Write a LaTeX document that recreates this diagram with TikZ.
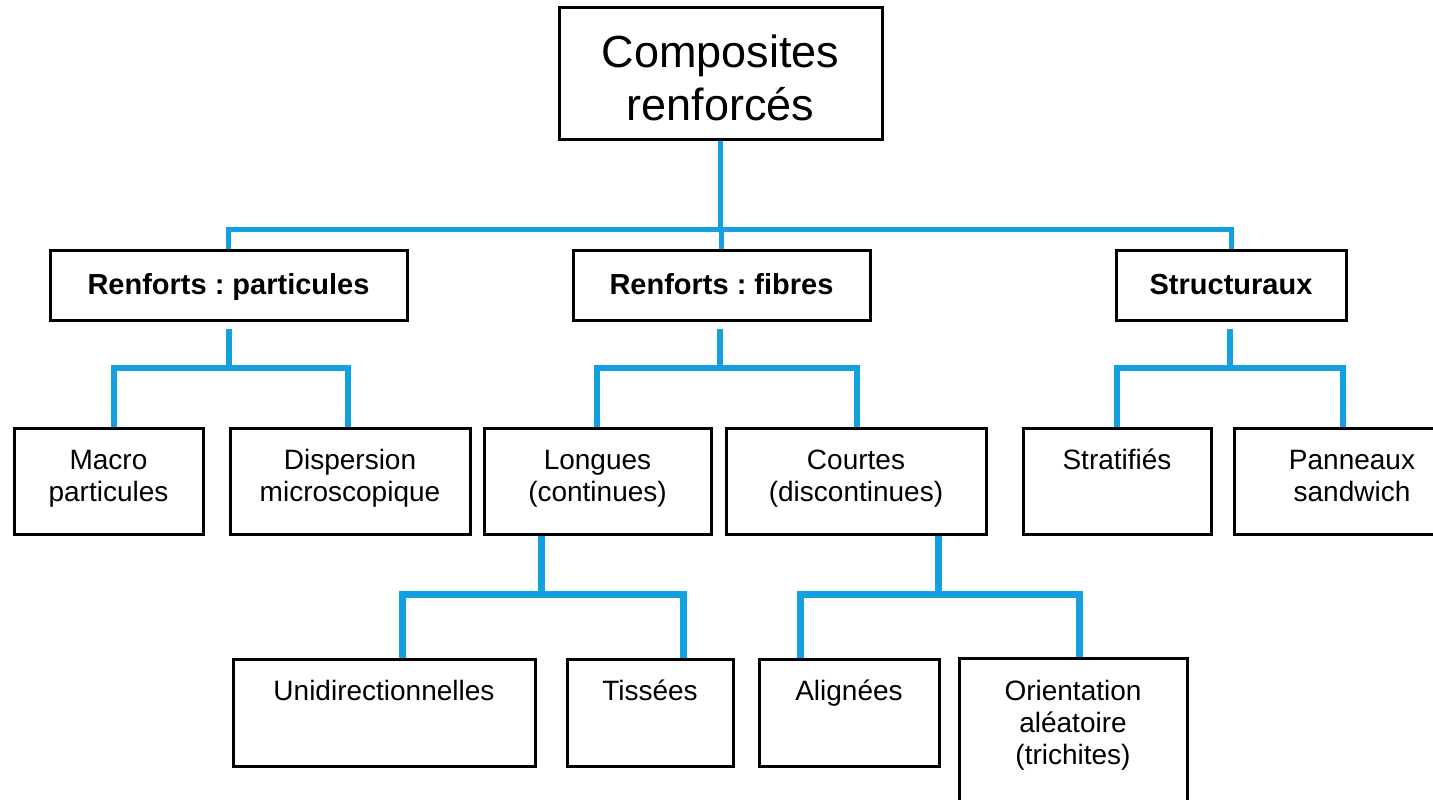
\documentclass[tikz,border=0pt]{standalone}
\usepackage{fontspec}
\setmainfont{Liberation Sans}
\usetikzlibrary{calc,backgrounds}
\frenchspacing
\definecolor{linkblue}{RGB}{18,160,225}
\tikzset{
  boxst/.style={draw=black, line width=3pt, fill=white, inner sep=0pt, outer sep=0pt},
  c1/.style={draw=linkblue, line width=5pt},
  c2/.style={draw=linkblue, line width=6pt},
  c3/.style={draw=linkblue, line width=7pt}
}
% name, x, y, width, height, first baseline, font, text
\newcommand\mkbox[8]{%
  \node[boxst, anchor=north west] (#1) at (#2,#3)
  {\parbox[c][#5pt][t]{#4pt}{\centering #7\rule{0pt}{#6pt}#8\par}};}
\newcommand\bigf{\fontsize{45}{52}\selectfont}
\newcommand\midf{\fontsize{29}{34}\selectfont\bfseries}
\newcommand\smf{\fontsize{28}{32}\selectfont}
\begin{document}
\begin{tikzpicture}[x=1pt,y=-1pt]
\useasboundingbox (0,0) rectangle (1433,800);
% level 0
\mkbox{top}{559}{8}{323}{131}{60}{\bigf}{Composites\\renforcés}
% level 1
\mkbox{part}{50}{250}{357}{70}{44}{\midf}{Renforts : particules}
\mkbox{fib}{573}{250}{297}{70}{44}{\midf}{Renforts : fibres}
\mkbox{str}{1116}{250}{230}{70}{44}{\midf}{Structuraux}
% level 2
\mkbox{macro}{14}{428}{189}{106}{41}{\smf}{Macro\\particules}
\mkbox{disp}{230}{428}{240}{106}{41}{\smf}{Dispersion\\microscopique}
\mkbox{long}{484}{428}{227}{106}{41}{\smf}{Longues\\(continues)}
\mkbox{court}{726}{428}{260}{106}{41}{\smf}{Courtes\\(discontinues)}
\mkbox{strat}{1023}{428}{188}{106}{41}{\smf}{Stratifiés}
\mkbox{pann}{1234}{428}{236}{106}{41}{\smf}{Panneaux\\sandwich}
% level 3
\mkbox{uni}{233}{659}{302}{107}{41}{\smf}{Unidirectionnelles}
\mkbox{tiss}{567}{659}{166}{107}{41}{\smf}{Tissées}
\mkbox{align}{759}{659}{180}{107}{41}{\smf}{Alignées}
\mkbox{orient}{959}{658}{228}{172}{42}{\smf}{Orientation\\aléatoire\\(trichites)}
% junction coordinates
\coordinate (bus) at (720,229);
\coordinate (pj) at (229,368);
\coordinate (pl) at (114,368);
\coordinate (pr) at (348,368);
\coordinate (fj) at (720,368);
\coordinate (fl) at (597,368);
\coordinate (fr) at (857,368);
\coordinate (sj) at (1230,368);
\coordinate (sl) at (1117,368);
\coordinate (sr) at (1343,368);
\coordinate (lj) at (541,594);
\coordinate (ll) at (402,594);
\coordinate (lr) at (683,594);
\coordinate (cj) at (938,594);
\coordinate (cl) at (800,594);
\coordinate (cr) at (1079,594);
\begin{scope}[on background layer]
\fill[white] (0,0) rectangle (1433,800);
% level 0 -> 1
\draw[c1] (top.south) -- (top.south |- bus);
\draw[c1] (part.north) |- (str.north |- bus) -- (str.north);
\draw[c1] (fib.north) -- (fib.north |- bus);
% level 1 -> 2
\draw[c2] ($(part.south -| pj)+(0,9)$) -- (pj);
\draw[c2] (macro.north -| pl) |- (pr) -- (disp.north -| pr);
\draw[c2] ($(fib.south -| fj)+(0,9)$) -- (fj);
\draw[c2] (long.north -| fl) |- (fr) -- (court.north -| fr);
\draw[c2] ($(str.south -| sj)+(0,9)$) -- (sj);
\draw[c2] (strat.north -| sl) |- (sr) -- (pann.north -| sr);
% level 2 -> 3
\draw[c3] (long.south -| lj) -- (lj);
\draw[c3] (uni.north -| ll) |- (lr) -- (tiss.north -| lr);
\draw[c3] (court.south -| cj) -- (cj);
\draw[c3] (align.north -| cl) |- (cr) -- (orient.north -| cr);
\end{scope}
\end{tikzpicture}
\end{document}
